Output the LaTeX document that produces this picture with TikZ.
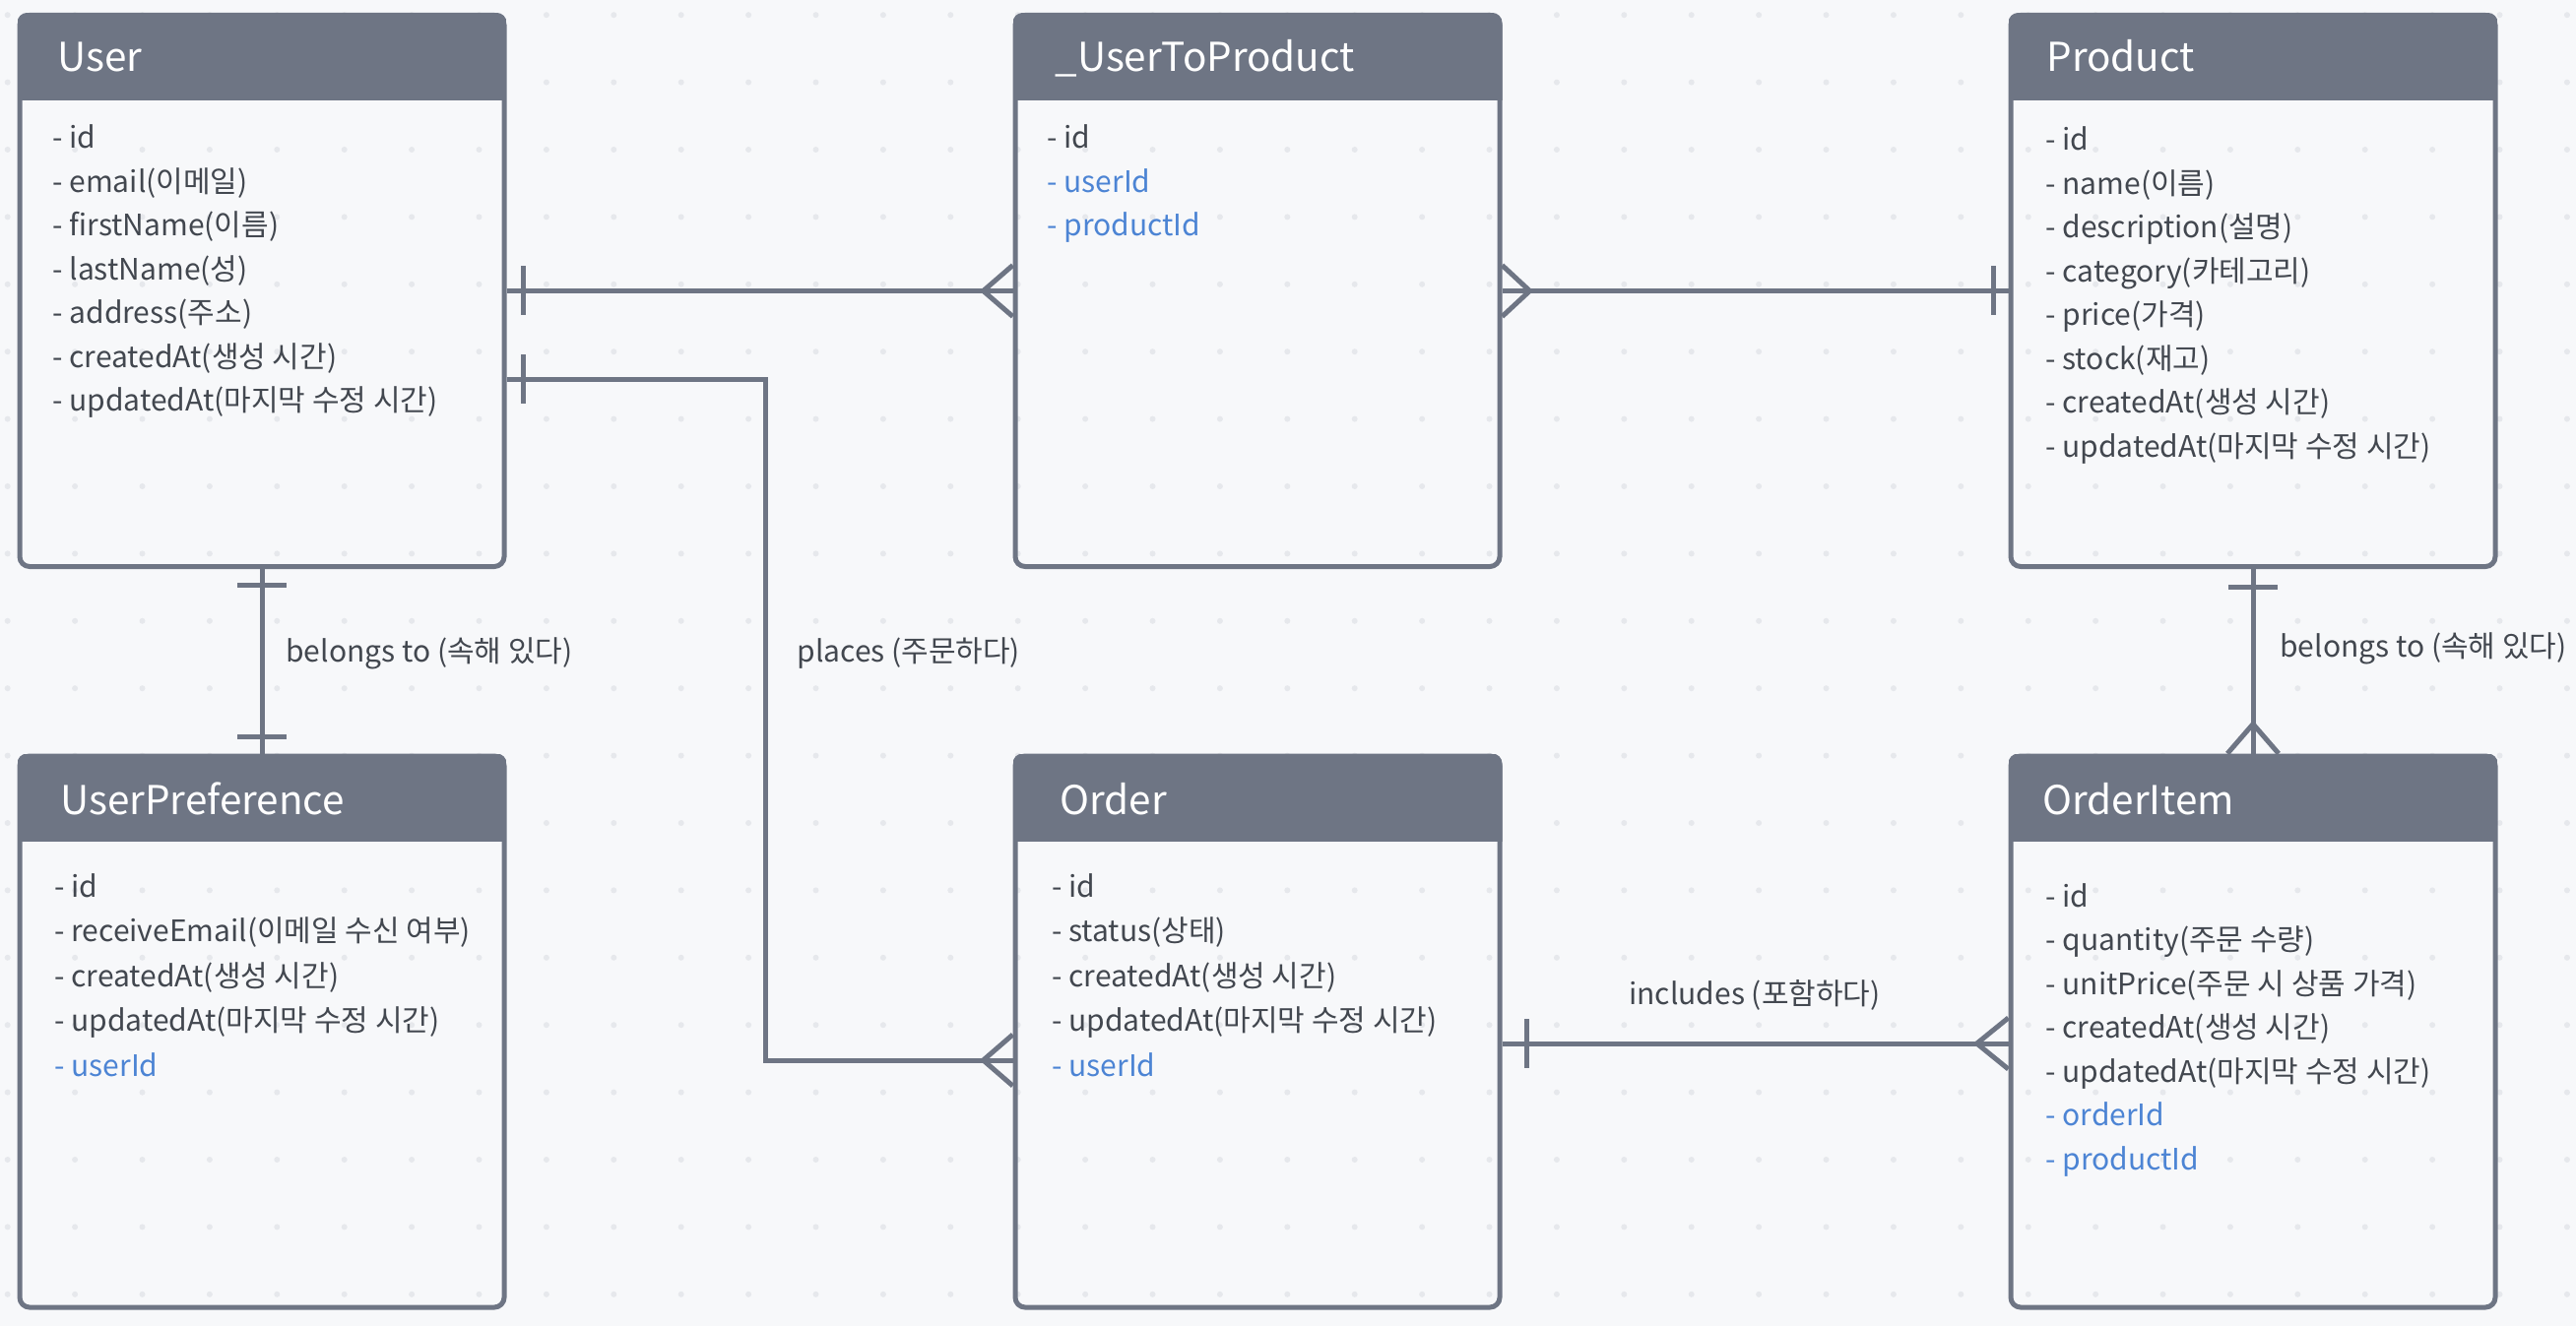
\documentclass[tikz,border=0pt]{standalone}
\usepackage{fontspec}
\setmainfont{Noto Sans CJK KR}
\usetikzlibrary{calc}
\definecolor{bgc}{HTML}{F7F8FA}
\definecolor{dotc}{HTML}{E6E8EC}
\definecolor{slate}{HTML}{6E7584}
\definecolor{txt}{HTML}{42474F}
\definecolor{fk}{HTML}{4C84D4}
\begin{document}
\begin{tikzpicture}[x=0.5pt,y=-0.5pt,
  entity/.style={draw=slate, line width=2.5pt, rounded corners=5pt, minimum width=246pt, minimum height=280pt, inner sep=0pt},
  ttl/.style={anchor=base west, text=white, font=\fontsize{20.2}{24}\selectfont, inner sep=0pt},
  fld/.style={anchor=base west, font=\fontsize{15}{18}\selectfont, inner sep=0pt},
  conn/.style={draw=slate, line width=2.5pt},
  lbl/.style={text=txt, font=\fontsize{15}{18}\selectfont, inner sep=0pt}]
\useasboundingbox (0,0) rectangle (2616,1347);
\fill[bgc] (0,0) rectangle (2616,1347);
\foreach \i in {0,...,38}{\foreach \j in {0,...,19}{\fill[dotc] ({7.7+68.4*\i},{15.2+68.4*\j}) circle (1.5pt);}}

% entity boxes
\node[entity] (user) at (266,295.5) {};
\node[entity] (utp) at (1277,295.5) {};
\node[entity] (product) at (2288,295.5) {};
\node[entity] (userpref) at (266,1048) {};
\node[entity] (order) at (1277,1048) {};
\node[entity] (orderitem) at (2288,1048) {};

\foreach \b in {user,utp,product,userpref,order,orderitem}{
  \begin{scope}
    \clip[rounded corners=5pt] (\b.north west) rectangle (\b.south east);
    \fill[slate] (\b.north west) rectangle ([yshift=-44.5pt]\b.north east);
  \end{scope}
}

% titles
\node[ttl] (t-user) at (58,73) {User};
\node[ttl] (t-utp) at (1071,73) {\_UserToProduct};
\node[ttl] (t-product) at (2078,73) {Product};
\node[ttl] (t-userpref) at (61,827) {UserPreference};
\node[ttl] (t-order) at (1076,827) {Order};
\node[ttl] (t-orderitem) at (2074,827) {OrderItem};

% fields
\foreach \c/\t [count=\i from 0] in {txt/- id, txt/- email(이메일), txt/- firstName(이름), txt/- lastName(성), txt/- address(주소), txt/- createdAt(생성 시간), txt/- updatedAt(마지막 수정 시간)}
  \node[fld, text=\c] (f-user-\i) at (53,{151+44.5*\i}) {\t};
\foreach \c/\t [count=\i from 0] in {txt/- id, fk/- userId, fk/- productId}
  \node[fld, text=\c] (f-utp-\i) at (1063,{151+44.5*\i}) {\t};
\foreach \c/\t [count=\i from 0] in {txt/- id, txt/- name(이름), txt/- description(설명), txt/- category(카테고리), txt/- price(가격), txt/- stock(재고), txt/- createdAt(생성 시간), txt/- updatedAt(마지막 수정 시간)}
  \node[fld, text=\c] (f-product-\i) at (2077,{153+44.5*\i}) {\t};
\foreach \c/\t [count=\i from 0] in {txt/- id, txt/- receiveEmail(이메일 수신 여부), txt/- createdAt(생성 시간), txt/- updatedAt(마지막 수정 시간), fk/- userId}
  \node[fld, text=\c] (f-userpref-\i) at (55,{911+45.5*\i}) {\t};
\foreach \c/\t [count=\i from 0] in {txt/- id, txt/- status(상태), txt/- createdAt(생성 시간), txt/- updatedAt(마지막 수정 시간), fk/- userId}
  \node[fld, text=\c] (f-order-\i) at (1068,{911+45.5*\i}) {\t};
\foreach \c/\t [count=\i from 0] in {txt/- id, txt/- quantity(주문 수량), txt/- unitPrice(주문 시 상품 가격), txt/- createdAt(생성 시간), txt/- updatedAt(마지막 수정 시간), fk/- orderId, fk/- productId}
  \node[fld, text=\c] (f-orderitem-\i) at (2077,{921+44.5*\i}) {\t};

% User -- _UserToProduct
\draw[conn] (user.east) -- (utp.west);
\draw[conn] ([shift={(8.5pt,12.5pt)}]user.east) -- ([shift={(8.5pt,-12.5pt)}]user.east);
\draw[conn] ([yshift=13pt]utp.west) -- ([xshift=-15pt]utp.west) -- ([yshift=-13pt]utp.west);

% _UserToProduct -- Product
\draw[conn] (utp.east) -- (product.west);
\draw[conn] ([yshift=13pt]utp.east) -- ([xshift=14pt]utp.east) -- ([yshift=-13pt]utp.east);
\draw[conn] ([shift={(-7.5pt,12.5pt)}]product.west) -- ([shift={(-7.5pt,-12.5pt)}]product.west);

% User -- Order (places)
\coordinate (pout) at ([yshift=-45pt]user.east);
\coordinate (pin) at ([yshift=-14.5pt]order.west);
\coordinate (pbend) at (777,0);
\draw[conn] (pout) -- (pout -| pbend) -- (pbend |- pin) -- (pin);
\draw[conn] ([shift={(8.5pt,12.5pt)}]pout) -- ([shift={(8.5pt,-12.5pt)}]pout);
\draw[conn] ([yshift=13pt]pin) -- ([xshift=-15pt]pin) -- ([yshift=-13pt]pin);
\node[lbl, anchor=west] (l-places) at (809,664) {places (주문하다)};

% User -- UserPreference
\draw[conn] (user.south) -- (userpref.north);
\draw[conn] ([shift={(-12.5pt,-8pt)}]user.south) -- ([shift={(12.5pt,-8pt)}]user.south);
\draw[conn] ([shift={(-12.5pt,8.5pt)}]userpref.north) -- ([shift={(12.5pt,8.5pt)}]userpref.north);
\node[lbl, anchor=west] (l-belongs1) at (290,664) {belongs to (속해 있다)};

% Product -- OrderItem
\draw[conn] (product.south) -- (orderitem.north);
\draw[conn] ([shift={(-12.5pt,-9pt)}]product.south) -- ([shift={(12.5pt,-9pt)}]product.south);
\draw[conn] ([xshift=-13pt]orderitem.north) -- ([yshift=15pt]orderitem.north) -- ([xshift=13pt]orderitem.north);
\node[lbl, anchor=west] (l-belongs2) at (2315,659) {belongs to (속해 있다)};

% Order -- OrderItem (includes)
\coordinate (iout) at ([yshift=-6pt]order.east);
\coordinate (iin) at (iout -| orderitem.west);
\draw[conn] (iout) -- (iin);
\draw[conn] ([shift={(12.5pt,12.5pt)}]iout) -- ([shift={(12.5pt,-12.5pt)}]iout);
\draw[conn] ([yshift=13pt]iin) -- ([xshift=-16pt]iin) -- ([yshift=-13pt]iin);
\node[lbl] (l-includes) at (1782,1011) {includes (포함하다)};
\end{tikzpicture}
\end{document}
